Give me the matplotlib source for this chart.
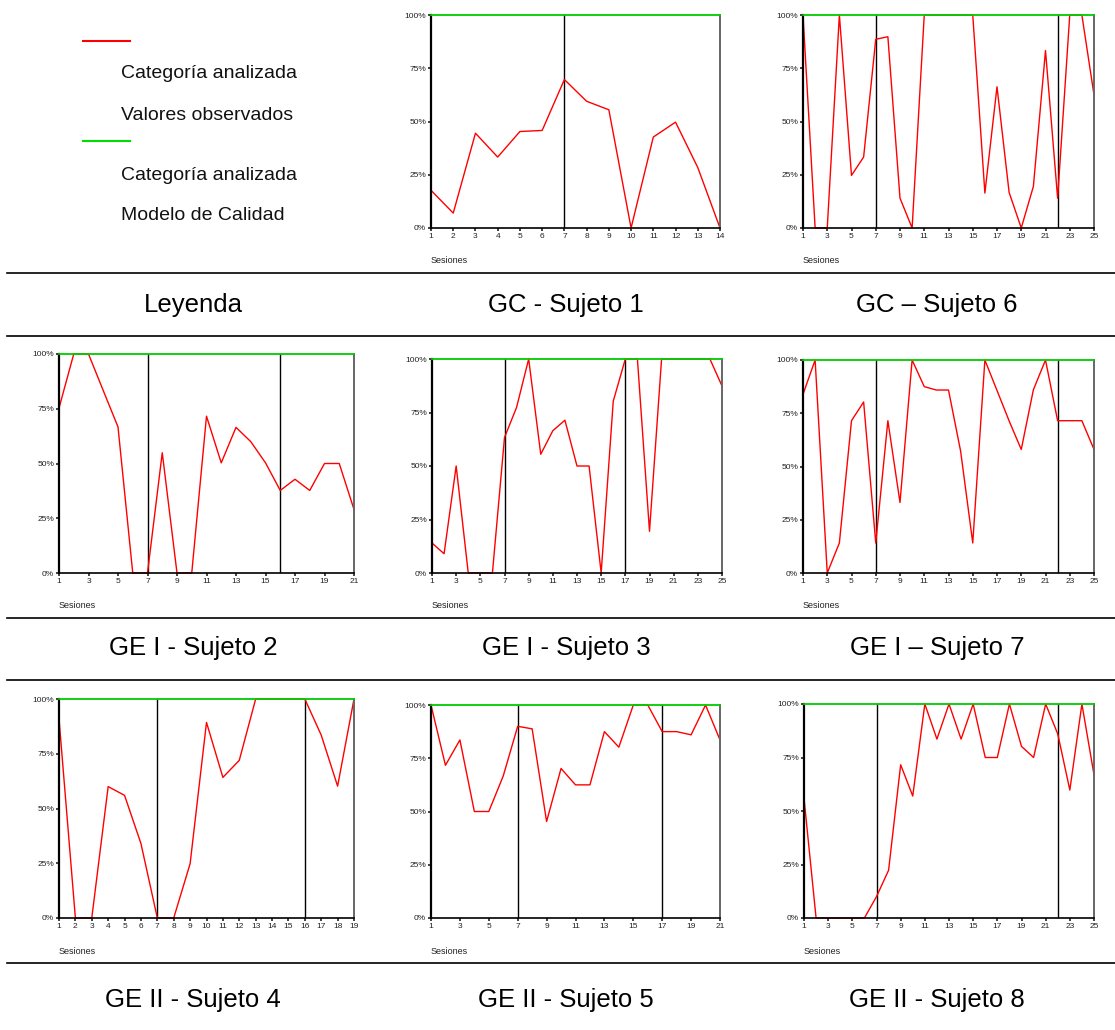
import matplotlib.pyplot as plt
from matplotlib.ticker import FuncFormatter

plt.rcParams['font.family'] = ['Liberation Sans', 'DejaVu Sans']

# porcentaje de la categoria analizada por sesion
sujeto1 = [17.7, 7, 44.5, 33.3, 45.3, 45.8, 69.7, 59.5, 55.5, 0, 42.7, 49.7, 28.4, 0]
sujeto6 = [100, 0, 0, 100, 24.7, 33.3, 88.6, 89.8, 14, 0, 100, 100, 100, 100, 100,
           16.4, 66.3, 16.7, 0, 19.5, 83.3, 14, 100, 100, 62.5]
sujeto2 = [75.3, 100, 100, 83.3, 66.7, 0, 0, 54.9, 0, 0, 71.6, 50.3, 66.5, 60, 50.3,
           37.7, 42.8, 37.7, 50, 50, 29]
sujeto3 = [14, 9, 50, 0, 0, 0, 63.3, 77.4, 100, 55.5, 66.5, 71.4, 50, 50, 0, 80.3,
           100, 100, 19.5, 100, 100, 100, 100, 100, 87.4]
sujeto7 = [83.9, 100, 0, 14.1, 71.5, 80.3, 14.1, 71.5, 33.1, 100, 87.5, 85.9, 85.9,
           57.2, 14.1, 100, 85.7, 71.4, 58, 86, 100, 71.5, 71.5, 71.5, 58]
sujeto4 = [91, 0, 0, 60, 56, 34, 0, 0, 24.8, 89.3, 64.2, 72, 100, 100, 100, 100,
           83.5, 60.2, 100]
sujeto5 = [100, 71.7, 83.6, 50, 50, 66.7, 90, 88.8, 45.3, 70.2, 62.5, 62.5, 87.5,
           80.2, 100, 100, 87.5, 87.5, 86, 100, 83.6]
sujeto8 = [56, 0, 0, 0, 0, 0, 10, 22.3, 71.6, 57, 100, 83.6, 100, 83.6, 100, 75, 75,
           100, 80.2, 75, 100, 86, 59.8, 100, 66.9]

# sesiones donde cambia la fase
fases1 = [7]
fases6 = [7, 22]
fases2 = [7, 16]
fases3 = [7, 17]
fases7 = [7, 22]
fases4 = [7, 16]
fases5 = [7, 17]
fases8 = [7, 22]

modelo_calidad = 100

titulos = ['GC - Sujeto 1', 'GC \u2013 Sujeto 6',
           'GE I - Sujeto 2', 'GE I - Sujeto 3', 'GE I \u2013 Sujeto 7',
           'GE II - Sujeto 4', 'GE II - Sujeto 5', 'GE II - Sujeto 8']

W, H = 1115, 1030
fig = plt.figure(figsize=(W / 100, H / 100), dpi=100)


def px_axes(left, top, right, bottom):
    return fig.add_axes([left / W, 1 - bottom / H, (right - left) / W, (bottom - top) / H])


def panel(box, valores, fases):
    left, top, right, bottom = box
    ax = px_axes(left, top, right, bottom)
    n = len(valores)
    x = list(range(1, n + 1))
    for f in fases:
        ax.axvline(f, color='black', lw=1.0, zorder=1)
    ax.axhline(modelo_calidad, color='#00cc00', lw=1.3, zorder=3, clip_on=False)
    ax.plot(x, valores, color='#ff0000', lw=1.0, zorder=2, clip_on=False)
    ax.set_xlim(1, n)
    ax.set_ylim(0, 100)
    paso = 1 if n <= 19 else 2
    ax.set_xticks(range(1, n + 1, paso))
    ax.set_yticks([0, 25, 50, 75, 100])
    ax.yaxis.set_major_formatter(FuncFormatter(lambda v, p: f'{int(v)}%'))
    ax.tick_params(labelsize=6, length=2.5, width=1.2, pad=1, colors='#222222')
    ax.spines['top'].set_visible(False)
    ax.spines['left'].set_linewidth(1.6)
    ax.spines['bottom'].set_linewidth(1.2)
    ax.spines['right'].set_color('#666666')
    ax.spines['right'].set_linewidth(1.4)
    fig.text(left / W, 1 - (bottom + 33) / H, 'Sesiones', fontsize=6.5,
             ha='left', va='center', color='#222222')
    return ax


cajas = [
    (431, 15, 720, 228), (803, 15, 1094, 228),
    (59, 354, 354, 573), (432, 359, 722, 573), (803, 360, 1094, 573),
    (59, 699, 354, 918), (431, 705, 720, 918), (804, 704, 1094, 918),
]
series = [sujeto1, sujeto6, sujeto2, sujeto3, sujeto7, sujeto4, sujeto5, sujeto8]
fases = [fases1, fases6, fases2, fases3, fases7, fases4, fases5, fases8]

for caja, s, f in zip(cajas, series, fases):
    panel(caja, s, f)

# leyenda
fig.add_artist(plt.Line2D([83 / W, 130 / W], [1 - 41 / H, 1 - 41 / H], color='#ff0000', lw=1.5))
fig.add_artist(plt.Line2D([83 / W, 130 / W], [1 - 141 / H, 1 - 141 / H], color='#00dd00', lw=1.5))
for y, t in [(74, 'Categoría analizada'), (115, 'Valores observados'),
             (175, 'Categoría analizada'), (215, 'Modelo de Calidad')]:
    fig.text(121 / W, 1 - y / H, t, fontsize=14, ha='left', va='center', color='#111111')

# separadores
for y in [273, 336, 618, 680, 963]:
    fig.add_artist(plt.Line2D([7 / W, 1], [1 - y / H, 1 - y / H], color='black', lw=1.2))

# titulos de cada panel
centros_x = [193, 566, 937]
filas_y = [305, 648, 1000]
todos = ['Leyenda'] + titulos
for i, t in enumerate(todos):
    fila, col = divmod(i, 3)
    fig.text(centros_x[col] / W, 1 - filas_y[fila] / H, t, fontsize=18.5,
             ha='center', va='center', color='black')

plt.savefig('out.png', dpi=100)
